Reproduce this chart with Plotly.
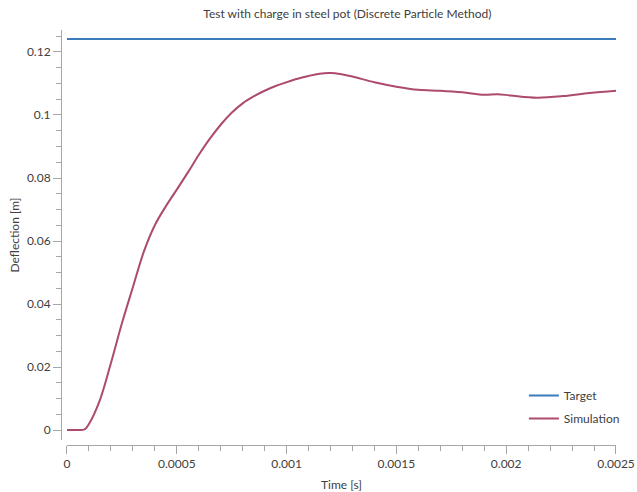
import plotly.graph_objects as go

time_s = [0, 0.00005, 0.00008, 0.0001, 0.00015, 0.0002, 0.00025, 0.0003, 0.00035,
          0.0004, 0.00045, 0.0005, 0.00055, 0.0006, 0.00065, 0.0007, 0.00075, 0.0008,
          0.00085, 0.0009, 0.00095, 0.001, 0.00105, 0.0011, 0.00115, 0.0012, 0.00125,
          0.0013, 0.0014, 0.0015, 0.0016, 0.0017, 0.0018, 0.0019, 0.00196, 0.00202,
          0.00214, 0.00226, 0.00238, 0.0025]
simulation = [0, 0, 0.0002, 0.0019, 0.0095, 0.0212, 0.0338, 0.0453, 0.0566,
              0.0650, 0.0710, 0.0763, 0.0817, 0.0873, 0.0924, 0.0969, 0.1007, 0.1037,
              0.1059, 0.1077, 0.1092, 0.1104, 0.1115, 0.1124, 0.1131, 0.1133, 0.1129,
              0.1122, 0.1104, 0.1090, 0.1080, 0.1077, 0.1072, 0.1064, 0.1066, 0.1062,
              0.1055, 0.1060, 0.1070, 0.1077]
target_t = [0, 0.0025]
target = [0.1241, 0.1241]

FONT = "Segoe UI, Lato, Noto Sans, sans-serif"
TXT = "#404040"
AX = "#a6a6a6"

fig = go.Figure()
fig.add_trace(go.Scatter(x=target_t, y=target, mode="lines", name="Target",
                         legendgroup="a",
                         line=dict(color="#3b7dbb", width=2)))
fig.add_trace(go.Scatter(x=time_s, y=simulation, mode="lines", name="Simulation",
                         legendgroup="b",
                         line=dict(color="#ad4a6f", width=2, shape="spline", smoothing=1)))

fig.update_layout(
    width=637, height=492,
    margin=dict(l=61, r=17, t=30, b=47),
    paper_bgcolor="white", plot_bgcolor="white",
    font=dict(family=FONT, size=12, color=TXT),
    title=dict(text="Test with charge in steel pot (Discrete Particle Method)",
               x=0.516, xref="paper", xanchor="center", y=0.971, yanchor="middle",
               font=dict(size=12, color=TXT)),
    showlegend=True,
    legend=dict(x=0.834, y=0.154, xanchor="left", yanchor="top",
                bgcolor="rgba(0,0,0,0)", tracegroupgap=4,
                font=dict(size=12, color=TXT)),
    xaxis=dict(domain=[6/559, 1], range=[0, 0.002500001], anchor="free", position=0,
               automargin=False,
               showgrid=False, zeroline=False, showline=True, linecolor=AX, linewidth=1,
               ticks="outside", ticklen=8, tickcolor=AX, tickwidth=1,
               tickvals=[0, 0.0005, 0.001, 0.0015, 0.002, 0.0025],
               ticktext=["0", "0.0005", "0.001", "0.0015", "0.002", "0.0025"],
               minor=dict(dtick=0.0001, ticks="outside", ticklen=5, tickcolor=AX, showgrid=False),
               title=dict(text="Time [s]", standoff=10, font=dict(size=12, color=TXT))),
    yaxis=dict(domain=[5/415, 1], range=[-0.00317, 0.12698], anchor="free", position=0,
               automargin=False,
               showgrid=False, zeroline=False, showline=True, linecolor=AX, linewidth=1,
               ticks="outside", ticklen=8, tickcolor=AX, tickwidth=1,
               tickvals=[0, 0.02, 0.04, 0.06, 0.08, 0.1, 0.12],
               ticktext=["0", "0.02", "0.04", "0.06", "0.08", "0.1", "0.12"],
               minor=dict(dtick=0.005, ticks="outside", ticklen=5, tickcolor=AX, showgrid=False),
               title=dict(text="Deflection [m]", standoff=3, font=dict(size=12, color=TXT))),
)

fig.write_html("out.html", config={"displayModeBar": False},
               post_script="document.body.style.margin='0';")
